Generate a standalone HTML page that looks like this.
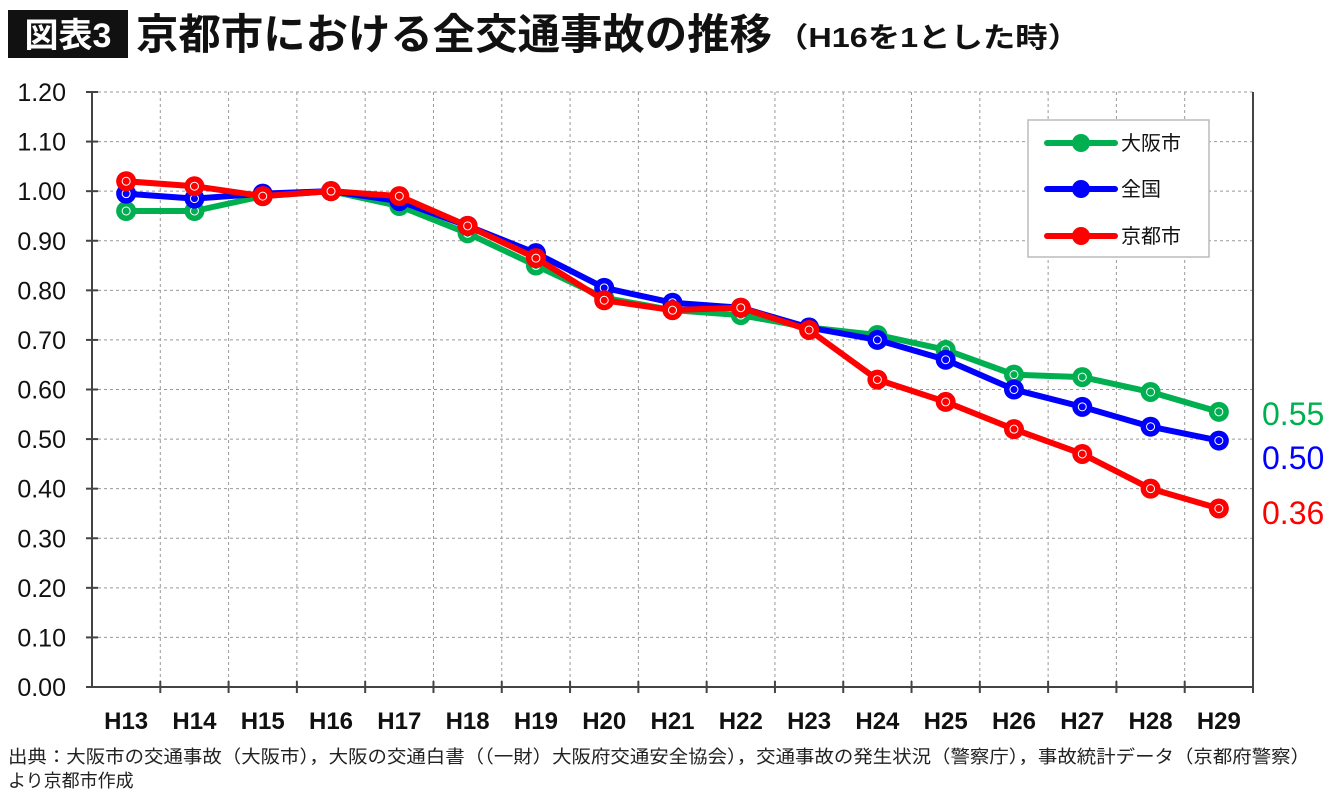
<!DOCTYPE html>
<html><head><meta charset="utf-8"><style>
body{margin:0;background:#fff;width:1340px;height:797px;overflow:hidden;font-family:"Liberation Sans","Noto Sans CJK JP",sans-serif}
</style></head><body>
<svg width="1340" height="797" style="position:absolute;left:0;top:0" font-family="Liberation Sans, Noto Sans CJK JP, sans-serif">
<rect x="8" y="10" width="120" height="48" fill="#111"/>
<text x="68" y="47" fill="#fff" font-size="34" font-weight="bold" text-anchor="middle">図表3</text>
<text x="136" y="49" fill="#111" font-size="42" font-weight="bold" textLength="636" lengthAdjust="spacingAndGlyphs">京都市における全交通事故の推移</text>
<text x="776" y="47" fill="#111" font-size="28" font-weight="bold" textLength="304" lengthAdjust="spacingAndGlyphs">（H16を1とした時）</text>
<g id="grid"></g><g id="axes"></g><g id="series"></g>
<rect x="1028" y="120" width="181" height="137" fill="#fff" stroke="#bbb" stroke-width="1.5"/>
<g id="legend"></g>
<text x="1262" y="425" fill="#00b050" font-size="32">0.55</text>
<text x="1262" y="469" fill="#0000ff" font-size="32">0.50</text>
<text x="1262" y="524" fill="#ff0000" font-size="32">0.36</text>
<text x="8" y="763" font-size="18" fill="#222" textLength="1302" lengthAdjust="spacingAndGlyphs">出典：大阪市の交通事故（大阪市），大阪の交通白書（（一財）大阪府交通安全協会），交通事故の発生状況（警察庁），事故統計データ（京都府警察）</text>
<text x="8" y="787" font-size="18" fill="#222">より京都市作成</text>
</svg>
<script>
const categories=["H13","H14","H15","H16","H17","H18","H19","H20","H21","H22","H23","H24","H25","H26","H27","H28","H29"];
const osaka=[0.96,0.96,0.99,1.00,0.97,0.915,0.85,0.785,0.76,0.75,0.725,0.71,0.68,0.63,0.625,0.595,0.555];
const national=[0.995,0.985,0.995,1.00,0.98,0.93,0.875,0.805,0.775,0.765,0.725,0.70,0.66,0.60,0.565,0.525,0.497];
const kyoto=[1.02,1.01,0.99,1.00,0.99,0.93,0.865,0.78,0.76,0.765,0.72,0.62,0.575,0.52,0.47,0.40,0.36];
const yTicks=["0.00","0.10","0.20","0.30","0.40","0.50","0.60","0.70","0.80","0.90","1.00","1.10","1.20"];
const NS="http://www.w3.org/2000/svg";
const L=92,R=1253,T=92,B=687,YMAX=1.2;
const cw=(R-L)/categories.length;
const xs=i=>L+cw*(i+0.5);
const ys=v=>B-(v/YMAX)*(B-T);
function mk(tag,attrs,parent){const e=document.createElementNS(NS,tag);for(const k in attrs)e.setAttribute(k,attrs[k]);parent.appendChild(e);return e;}
const grid=document.getElementById('grid'),axes=document.getElementById('axes'),ser=document.getElementById('series'),leg=document.getElementById('legend');
yTicks.forEach((t,i)=>{const v=parseFloat(t),y=ys(v);
 if(i>0){const g=mk('line',{x1:L,x2:R,y1:y,y2:y,stroke:'#999','stroke-dasharray':'3,3'},grid);
 }
 const tk=mk('line',{x1:L-6,x2:L+6,y1:y,y2:y,stroke:'#444','stroke-width':2},axes);
 
 const tx=mk('text',{x:66,y:y+9,'font-size':25,'text-anchor':'end',fill:'#111'},axes);tx.textContent=t;
 });
for(let i=1;i<=categories.length;i++){const x=L+cw*i;
 if(i<categories.length){const g=mk('line',{x1:x,x2:x,y1:T,y2:B,stroke:'#999','stroke-dasharray':'3,3'},grid);
 }
 const tk=mk('line',{x1:x,x2:x,y1:B-6,y2:B+6,stroke:'#444','stroke-width':2},axes);
 }
const fr=mk('line',{x1:R,x2:R,y1:T,y2:B,stroke:'#444','stroke-width':2},axes);

const ya=mk('line',{x1:L,x2:L,y1:T,y2:B,stroke:'#444','stroke-width':2},axes);

const xa=mk('line',{x1:L,x2:R,y1:B,y2:B,stroke:'#444','stroke-width':2},axes);

categories.forEach((c,i)=>{const t=mk('text',{x:xs(i),y:729,'font-size':24,'font-weight':'bold','text-anchor':'middle',fill:'#111'},axes);t.textContent=c;
 });
function drawSeries(vals,color,name){
 const p=mk('polyline',{points:vals.map((v,i)=>xs(i)+','+ys(v)).join(' '),fill:'none',stroke:color,'stroke-width':6,'stroke-linejoin':'round'},ser);
 
 vals.forEach((v,i)=>{const c=mk('circle',{cx:xs(i),cy:ys(v),r:10,fill:color},ser);
  
  const h=mk('circle',{cx:xs(i),cy:ys(v),r:4,fill:'none',stroke:'#fff','stroke-width':1},ser);
  });}
drawSeries(osaka,'#00b050','osaka');
drawSeries(national,'#0000ff','national');
drawSeries(kyoto,'#ff0000','kyoto');
[["大阪市",'#00b050',143],["全国",'#0000ff',189],["京都市",'#ff0000',236]].forEach(([lab,col,y])=>{
 const l=mk('line',{x1:1047,x2:1115,y1:y,y2:y,stroke:col,'stroke-width':6,'stroke-linecap':'round'},leg);
 
 const c=mk('circle',{cx:1081,cy:y,r:9,fill:col},leg);
 
 const t=mk('text',{x:1121,y:y+7,'font-size':20,fill:'#111'},leg);t.textContent=lab;
 });
</script>
</body></html>
